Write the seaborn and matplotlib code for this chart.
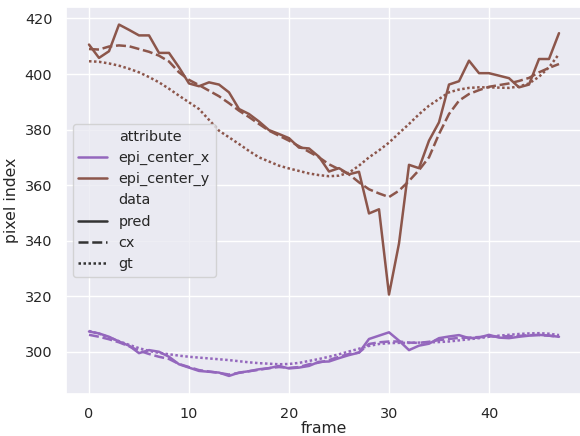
import numpy as np
import pandas as pd
import matplotlib
matplotlib.use("Agg")
import matplotlib.pyplot as plt
import seaborn as sns

frames = list(range(48))

x_pred = [307.3, 306.6, 305.4, 303.7, 302.2, 299.5, 300.6, 300.0, 298.2, 295.5,
          294.3, 293.1, 292.8, 292.5, 291.3, 292.5, 293.0, 293.7, 294.1, 294.9,
          294.0, 294.3, 294.9, 296.4, 296.5, 297.7, 298.8, 299.7, 304.6, 305.8,
          307.0, 304.0, 300.6, 302.2, 302.9, 304.9, 305.5, 306.0, 304.9, 305.1,
          306.1, 305.1, 304.9, 305.4, 305.8, 306.1, 305.8, 305.4]
x_cx = [306.1, 305.4, 304.5, 303.4, 302.0, 300.4, 299.2, 298.2, 297.4, 295.6,
        294.5, 293.4, 292.9, 292.4, 291.8, 292.4, 293.0, 293.5, 294.1, 294.5,
        294.2, 294.5, 295.5, 296.1, 297.0, 298.2, 299.2, 299.7, 302.8, 303.4,
        303.7, 303.7, 303.3, 303.2, 303.6, 304.2, 304.6, 305.0, 305.1, 305.3,
        305.5, 305.5, 305.6, 305.7, 306.0, 306.0, 305.8, 305.4]
x_gt = [307.5, 306.5, 305.2, 303.8, 302.5, 301.3, 300.3, 299.6, 299.1, 298.6,
        298.2, 297.9, 297.6, 297.3, 297.0, 296.6, 296.2, 295.9, 295.7, 295.5,
        295.6, 296.0, 296.7, 297.4, 298.2, 299.1, 300.1, 301.1, 302.1, 302.8,
        303.1, 303.2, 303.2, 303.3, 303.4, 303.5, 303.7, 304.1, 304.5, 304.9,
        305.4, 305.8, 306.1, 306.4, 306.6, 306.7, 306.5, 306.0]

y_pred = [410.6, 405.8, 408.2, 417.8, 415.9, 413.9, 413.9, 407.6, 407.6, 402.4,
          396.6, 395.6, 397.0, 396.2, 393.4, 387.4, 385.6, 382.9, 379.8, 378.4,
          376.9, 373.5, 373.2, 370.2, 364.9, 366.1, 363.9, 364.8, 349.8, 351.3,
          320.6, 339.0, 367.3, 366.1, 376.0, 382.6, 396.2, 397.4, 404.8, 400.3,
          400.3, 399.4, 398.5, 395.2, 396.2, 405.4, 405.4, 414.7]
y_cx = [409.0, 408.8, 409.9, 410.3, 410.0, 409.0, 408.0, 406.6, 404.5, 400.6,
        397.9, 396.0, 394.0, 392.0, 389.5, 386.8, 384.5, 382.0, 379.6, 377.8,
        376.0, 374.0, 372.0, 370.0, 367.5, 365.7, 363.9, 361.0, 358.5, 357.0,
        355.7, 358.0, 361.5, 365.4, 370.0, 378.4, 385.6, 390.4, 392.8, 394.2,
        395.4, 396.0, 396.6, 397.5, 398.6, 400.6, 402.2, 403.6]
y_gt = [404.6, 404.4, 403.8, 403.0, 401.9, 400.6, 398.9, 397.0, 394.7, 392.2,
        389.8, 387.4, 383.5, 379.6, 377.2, 374.8, 372.3, 370.0, 368.5, 367.0,
        366.0, 365.1, 364.2, 363.6, 363.2, 363.4, 364.5, 367.0, 370.0, 372.5,
        375.3, 378.7, 382.0, 385.5, 388.6, 391.0, 393.4, 394.4, 395.0, 395.2,
        395.2, 395.1, 395.0, 395.5, 396.6, 399.0, 402.4, 407.2]

attributes = ["epi_center_x", "epi_center_y"]
data_kinds = ["pred", "cx", "gt"]
series = {
    ("epi_center_x", "pred"): x_pred,
    ("epi_center_x", "cx"): x_cx,
    ("epi_center_x", "gt"): x_gt,
    ("epi_center_y", "pred"): y_pred,
    ("epi_center_y", "cx"): y_cx,
    ("epi_center_y", "gt"): y_gt,
}

rows = []
for attr in attributes:
    for kind in data_kinds:
        for f, v in zip(frames, series[(attr, kind)]):
            rows.append({"frame": f, "pixel index": v, "attribute": attr, "data": kind})
df = pd.DataFrame(rows)

sns.set_theme(style="darkgrid", font_scale=0.94)
fig = plt.figure(figsize=(5.8, 4.36), dpi=100)
ax = fig.add_axes([65.5 / 580, 1 - 393.5 / 436, 517 / 580, 386.5 / 436])
sns.lineplot(data=df, x="frame", y="pixel index", hue="attribute", style="data",
             hue_order=attributes, style_order=data_kinds,
             palette=["#9467bd", "#8c564b"], linewidth=1.8, ax=ax)
ax.xaxis.labelpad = 0
sns.move_legend(ax, "center left", bbox_to_anchor=(0.0, 0.5))
fig.savefig("out.png", dpi=100)
